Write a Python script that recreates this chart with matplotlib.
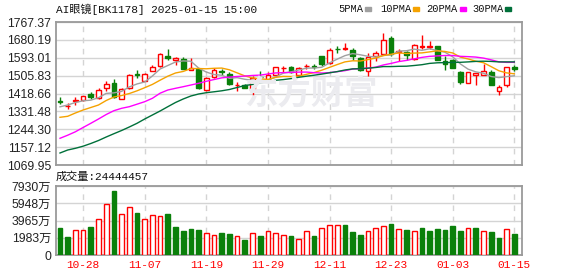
import numpy as np
import matplotlib
matplotlib.use("Agg")
import matplotlib.pyplot as plt
from matplotlib.patches import Rectangle

# K-line data (60 trading days up to 2025-01-15)
opens = [1380, 1358, 1381, 1389, 1416, 1397, 1445, 1470, 1393, 1444,
         1515, 1481, 1530, 1551, 1600, 1584, 1588, 1533, 1538, 1437,
         1498, 1526, 1514, 1460, 1462, 1437, 1500, 1486, 1510, 1541,
         1548, 1510, 1553, 1552, 1603, 1566, 1636, 1637, 1632, 1592,
         1530, 1600, 1613, 1689, 1620, 1621, 1588, 1646, 1647, 1649,
         1576, 1583, 1522, 1470, 1510, 1510, 1524, 1432, 1462, 1546]
highs = [1402, 1371, 1400, 1408, 1424, 1445, 1478, 1491, 1445, 1515,
         1533, 1518, 1556, 1614, 1637, 1596, 1595, 1593, 1540, 1500,
         1543, 1540, 1524, 1473, 1465, 1502, 1530, 1523, 1550, 1554,
         1554, 1550, 1563, 1564, 1603, 1640, 1649, 1665, 1642, 1597,
         1616, 1626, 1714, 1697, 1635, 1628, 1660, 1702, 1673, 1650,
         1603, 1588, 1528, 1524, 1520, 1563, 1533, 1460, 1546, 1559]
lows = [1369, 1344, 1364, 1384, 1392, 1393, 1429, 1398, 1393, 1441,
        1494, 1478, 1528, 1549, 1584, 1560, 1538, 1531, 1440, 1432,
        1494, 1508, 1460, 1429, 1444, 1410, 1486, 1478, 1507, 1522,
        1521, 1506, 1540, 1538, 1553, 1561, 1616, 1633, 1580, 1527,
        1502, 1578, 1609, 1602, 1576, 1582, 1583, 1637, 1637, 1582,
        1535, 1542, 1465, 1468, 1462, 1508, 1460, 1413, 1452, 1530]
closes = [1377, 1360, 1389, 1405, 1400, 1437, 1465, 1402, 1441, 1509,
          1509, 1513, 1549, 1611, 1594, 1594, 1540, 1541, 1445, 1496,
          1533, 1524, 1465, 1462, 1446, 1494, 1497, 1510, 1546, 1543,
          1525, 1543, 1555, 1549, 1562, 1631, 1634, 1640, 1600, 1532,
          1595, 1616, 1678, 1611, 1627, 1605, 1654, 1649, 1649, 1584,
          1563, 1543, 1475, 1522, 1518, 1530, 1462, 1449, 1546, 1539]

# moving averages as drawn on the chart
ma5 = [1353.8, 1362.6, 1374.8, 1383.1, 1386.2, 1398.2, 1419.2, 1421.8, 1429.0, 1450.8,
       1465.2, 1474.8, 1504.2, 1538.2, 1555.2, 1572.2, 1577.6, 1576.0, 1542.8, 1523.2,
       1511.0, 1507.8, 1492.6, 1496.0, 1488.0, 1483.0, 1480.0, 1484.0, 1498.6, 1518.0,
       1524.2, 1533.4, 1542.4, 1543.0, 1546.8, 1568.0, 1586.2, 1603.2, 1613.4, 1607.4,
       1600.2, 1596.6, 1604.2, 1606.4, 1625.4, 1627.4, 1635.0, 1629.2, 1636.8, 1628.2,
       1619.8, 1597.6, 1562.8, 1537.4, 1524.2, 1517.6, 1501.4, 1496.2, 1501.0, 1505.2]
ma10 = [1302.6, 1307.5, 1323.6, 1338.2, 1350.4, 1362.6, 1384.5, 1401.6, 1408.9, 1418.5,
        1431.7, 1447.0, 1463.0, 1483.6, 1503.0, 1518.7, 1526.2, 1540.1, 1540.5, 1539.2,
        1541.6, 1542.7, 1534.3, 1519.4, 1504.6, 1494.6, 1490.3, 1487.2, 1497.3, 1502.0,
        1501.2, 1503.1, 1512.1, 1520.8, 1532.4, 1546.1, 1559.8, 1572.8, 1578.2, 1577.1,
        1584.1, 1591.4, 1603.7, 1609.9, 1616.4, 1613.8, 1615.8, 1616.7, 1621.6, 1626.8,
        1623.6, 1616.3, 1596.0, 1587.1, 1576.2, 1568.7, 1549.5, 1529.5, 1519.2, 1514.7]
ma20 = [1200.2, 1215.3, 1232.0, 1252.9, 1273.3, 1294.3, 1316.2, 1334.8, 1346.5, 1354.3,
        1366.5, 1378.7, 1395.3, 1420.1, 1435.7, 1444.0, 1451.8, 1460.1, 1468.4, 1478.2,
        1486.7, 1494.9, 1498.7, 1501.5, 1503.8, 1506.7, 1508.3, 1513.7, 1518.9, 1520.6,
        1521.4, 1522.9, 1523.2, 1520.1, 1518.5, 1520.4, 1525.1, 1530.0, 1537.8, 1539.6,
        1542.7, 1547.3, 1557.9, 1565.4, 1574.4, 1580.0, 1587.8, 1594.8, 1599.9, 1602.0,
        1603.9, 1603.9, 1599.9, 1598.5, 1596.3, 1591.3, 1582.7, 1573.1, 1570.4, 1570.8]
ma30 = [1128.5, 1143.1, 1151.4, 1161.7, 1174.8, 1189.4, 1206.5, 1222.6, 1238.2, 1255.3,
        1273.3, 1294.3, 1313.8, 1333.3, 1354.3, 1374.8, 1391.9, 1406.5, 1416.2, 1422.6,
        1427.0, 1431.8, 1438.2, 1447.9, 1457.7, 1462.6, 1469.9, 1477.2, 1483.0, 1486.5,
        1491.3, 1497.7, 1503.0, 1507.9, 1513.3, 1519.6, 1525.5, 1533.3, 1538.7, 1539.6,
        1542.1, 1545.5, 1550.0, 1550.0, 1551.3, 1551.8, 1555.2, 1559.1, 1565.5, 1568.4,
        1569.4, 1570.4, 1570.8, 1572.8, 1575.2, 1576.2, 1575.2, 1572.8, 1572.8, 1572.8]

# volume in 万, and whether the volume bar is drawn red (1) or green (0)
volume = [3138, 2107, 2873, 2873, 3218, 4137, 5861, 7355, 4712, 5478,
          4865, 4099, 4597, 4482, 4712, 3218, 2796, 2988, 2873, 2490,
          2299, 2528, 2414, 2184, 1762, 2490, 2184, 2758, 2490, 2299,
          2184, 1839, 2758, 2184, 3103, 3448, 3448, 3448, 2643, 2299,
          2758, 3103, 3333, 3601, 2988, 2873, 2758, 3103, 2758, 2988,
          2873, 3333, 2758, 3103, 3103, 2758, 2643, 1954, 2988, 2444]
vol_up = [0, 0, 1, 1, 0, 1, 1, 0, 1, 1, 0, 1, 1, 1, 0, 0, 0, 0, 0, 1,
          1, 0, 0, 1, 0, 1, 0, 1, 1, 1, 0, 1, 1, 0, 1, 1, 1, 0, 0, 0,
          1, 1, 1, 0, 1, 0, 1, 0, 0, 0, 0, 0, 0, 1, 0, 1, 0, 0, 1, 0]

date_pos = [3, 11, 19, 27, 35, 43, 51, 59]
date_labels = ["10-28", "11-07", "11-19", "11-29", "12-11", "12-23", "01-03", "01-15"]
price_ticks = [1069.95, 1157.12, 1244.30, 1331.48, 1418.66, 1505.83, 1593.01, 1680.19, 1767.37]
vol_ticks = [0, 1983, 3965, 5948, 7930]

RED = "#ff0000"
GREEN = "#0a800a"
GRID = "#d4d4d4"
SPINE = "#9a9a9a"
MA_COLORS = ["#a0a0a0", "#f5a200", "#ff00ff", "#00703a"]
MONO = ["Liberation Mono", "Noto Sans CJK SC"]
SANS = ["Liberation Sans", "Noto Sans CJK SC"]

W, H = 578, 276
fig = plt.figure(figsize=(W / 100, H / 100), dpi=100)


def fx(px):
    return px / W


def fy(py):
    return 1 - py / H


ax = fig.add_axes([fx(56), fy(165), fx(522) - fx(56), fy(22) - fy(165)])
axv = fig.add_axes([fx(56), fy(255), fx(522) - fx(56), fy(186) - fy(255)])

x = np.arange(len(closes))
o = np.array(opens, dtype=float)
c = np.array(closes, dtype=float)
up = c >= o
bw = 0.62

# watermark
fig.text(fx(244), fy(95), "东方财富", fontsize=24, fontweight="bold", color="#ebebef",
         family="Noto Sans CJK SC", ha="left", va="center", zorder=0)

# candles
for i in x:
    col = RED if up[i] else GREEN
    ax.vlines(i, lows[i], highs[i], color=col, lw=1, zorder=3)
bottom = np.minimum(o, c)
height = np.maximum(np.abs(c - o), 0.6)
ax.bar(x[up], height[up], bottom=bottom[up], width=bw, facecolor="white",
       edgecolor=RED, lw=1, zorder=4)
ax.bar(x[~up], height[~up], bottom=bottom[~up], width=bw, facecolor=GREEN,
       edgecolor=GREEN, lw=1, zorder=4)

for ma, col in zip([ma5, ma10, ma20, ma30], MA_COLORS):
    ax.plot(x, ma, color=col, lw=1, zorder=5)

ax.set_xlim(-0.52, 60.0)
ax.set_ylim(price_ticks[0], price_ticks[-1])
ax.set_yticks(price_ticks)
ax.set_yticklabels(["%.2f" % v for v in price_ticks], family=SANS, fontsize=8.8, color="#222222")
ax.set_xticks(date_pos)
ax.set_xticklabels([])

# volume bars
vu = np.array(vol_up) == 1
vol = np.array(volume, dtype=float)
axv.bar(x[vu], vol[vu], width=bw, facecolor="white", edgecolor=RED, lw=1, zorder=3)
axv.bar(x[~vu], vol[~vu], width=bw, facecolor=GREEN, edgecolor=GREEN, lw=1, zorder=3)
axv.set_xlim(-0.52, 60.0)
axv.set_ylim(0, vol_ticks[-1])
axv.set_yticks(vol_ticks)
axv.set_yticklabels(["%d万" % v if v else "0" for v in vol_ticks], family=SANS,
                    fontsize=8.8, color="#222222")
axv.set_xticks(date_pos)
axv.set_xticklabels(date_labels, family=MONO, fontsize=8, color=RED)

for a in (ax, axv):
    a.tick_params(length=0, pad=3.5)
    a.grid(axis="y", color=GRID, lw=1, zorder=0)
    a.grid(axis="x", color=GRID, lw=1, ls=(0, (4, 4)), zorder=0)
    a.set_axisbelow(True)
    for s in a.spines.values():
        s.set_color(SPINE)
        s.set_linewidth(1.3)

# header texts
fig.text(fx(56), fy(9), "AI眼镜[BK1178] 2025-01-15 15:00", family=MONO, fontsize=8,
         color="#111111", ha="left", va="center")
fig.text(fx(56), fy(177), "成交量:24444457", family=MONO, fontsize=8,
         color="#111111", ha="left", va="center")

# legend
leg_names = ["5PMA", "10PMA", "20PMA", "30PMA"]
leg_x = [338, 380, 426, 472]
sw_x = [365, 413, 460, 505]
for name, lx, sx, col in zip(leg_names, leg_x, sw_x, MA_COLORS):
    fig.text(fx(lx), fy(9), name, family=MONO, fontsize=7.5, color="#111111",
             ha="left", va="center")
    fig.patches.append(Rectangle((fx(sx), fy(10.5)), 6 / W, 3 / H, color=col,
                                 transform=fig.transFigure, figure=fig))

fig.savefig("out.png", dpi=100)
